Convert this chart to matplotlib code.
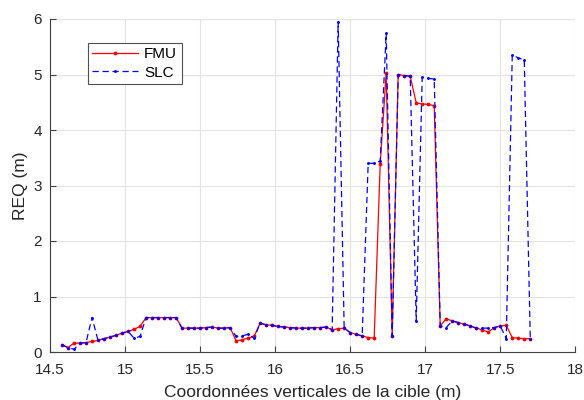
import numpy as np
import matplotlib.pyplot as plt

plt.rcParams['font.family'] = ['Liberation Sans', 'DejaVu Sans']

# vertical target coordinates (m)
x = np.round(14.58 + 0.04 * np.arange(79), 2)

fmu = [0.13, 0.08, 0.16, 0.16, 0.17, 0.19, 0.21, 0.24, 0.27, 0.30,
       0.34, 0.37, 0.41, 0.46, 0.62, 0.62, 0.62, 0.62, 0.62, 0.62,
       0.43, 0.43, 0.43, 0.43, 0.44, 0.45, 0.43, 0.43, 0.44, 0.20,
       0.22, 0.25, 0.28, 0.52, 0.49, 0.48, 0.46, 0.45, 0.44, 0.43,
       0.43, 0.43, 0.44, 0.44, 0.45, 0.40, 0.42, 0.43, 0.35, 0.32,
       0.29, 0.26, 0.25, 3.38, 5.03, 0.29, 5.00, 4.98, 4.97, 4.49,
       4.47, 4.46, 4.44, 0.47, 0.60, 0.56, 0.53, 0.50, 0.47, 0.43,
       0.40, 0.36, 0.44, 0.47, 0.48, 0.26, 0.25, 0.24, 0.24]

slc = [0.13, 0.08, 0.05, 0.16, 0.17, 0.62, 0.21, 0.24, 0.27, 0.30,
       0.34, 0.37, 0.25, 0.28, 0.62, 0.62, 0.62, 0.62, 0.62, 0.62,
       0.43, 0.43, 0.43, 0.43, 0.44, 0.45, 0.43, 0.43, 0.44, 0.28,
       0.29, 0.32, 0.25, 0.52, 0.49, 0.48, 0.46, 0.45, 0.44, 0.43,
       0.43, 0.43, 0.44, 0.44, 0.45, 0.40, 5.95, 0.43, 0.35, 0.32,
       0.29, 3.40, 3.40, 3.44, 5.74, 0.29, 5.00, 4.98, 4.97, 0.56,
       4.95, 4.93, 4.92, 0.47, 0.44, 0.56, 0.53, 0.50, 0.47, 0.43,
       0.43, 0.43, 0.44, 0.47, 0.24, 5.35, 5.30, 5.26, 0.24]

fig = plt.figure(figsize=(5.84, 4.0), dpi=100)
ax = fig.add_axes([0.0856, 0.12, 0.8995, 0.8325])

ax.plot(x, fmu, '-r.', lw=0.9, ms=3.5, label='FMU')
ax.plot(x, slc, '--b.', lw=0.9, ms=2.2, dashes=(5, 3), label='SLC')

ax.set_xlim(14.5, 18)
ax.set_ylim(0, 6)
ax.set_xticks([14.5, 15, 15.5, 16, 16.5, 17, 17.5, 18])
ax.set_xticklabels(['14.5', '15', '15.5', '16', '16.5', '17', '17.5', '18'])
ax.set_yticks(range(7))

ax.grid(True, color='#e3e3e3', lw=0.8)
ax.set_axisbelow(True)
for s in ['top', 'right']:
    ax.spines[s].set_visible(False)
for s in ['left', 'bottom']:
    ax.spines[s].set_color('#404040')
    ax.spines[s].set_linewidth(0.8)
ax.tick_params(direction='in', length=4, colors='#404040', labelcolor='#262626',
               labelsize=11)
ax.tick_params(axis='x', pad=8)
ax.tick_params(axis='y', pad=6)

ax.set_xlabel('Coordonnées verticales de la cible (m)', fontsize=12.5,
              color='#262626', labelpad=6)
ax.set_ylabel('REQ (m)', fontsize=12.5, color='#262626', labelpad=4)

leg = ax.legend(loc='upper left', bbox_to_anchor=(0.0717, 0.929), borderaxespad=0,
                fancybox=False, edgecolor='#262626', fontsize=11, numpoints=1,
                handlelength=3, labelspacing=0.3, borderpad=0.3,
                handletextpad=0.4)
leg.get_frame().set_linewidth(0.8)

fig.savefig('out.png', dpi=100)
